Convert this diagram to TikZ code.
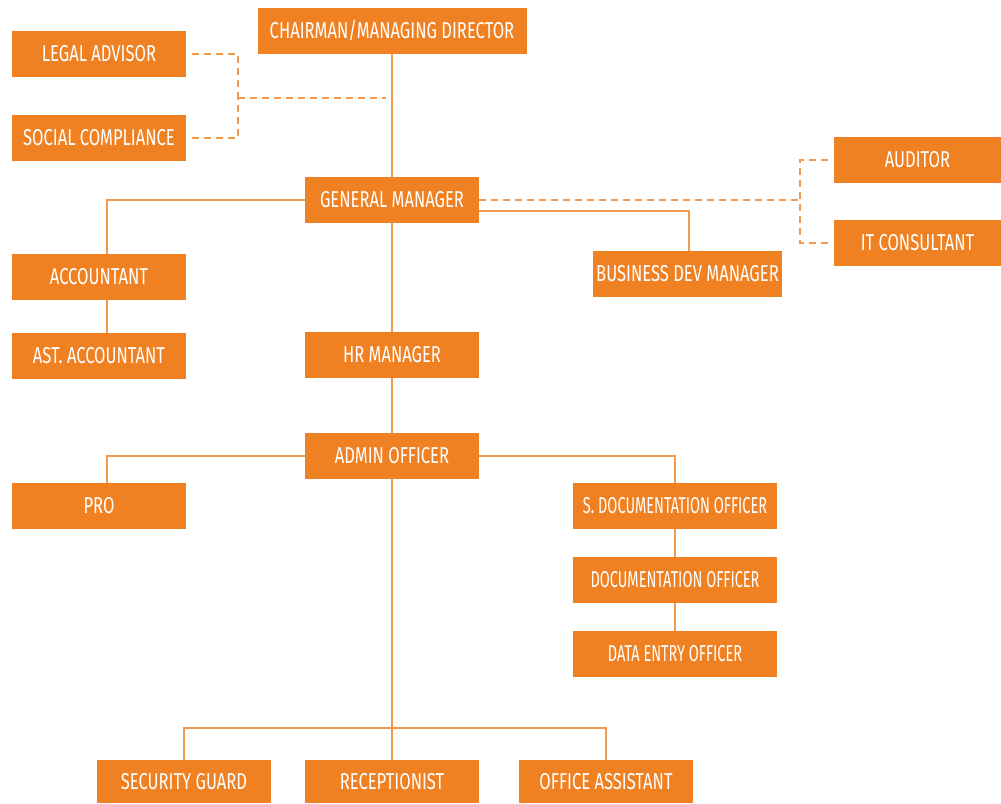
\documentclass[tikz,border=0pt]{standalone}
\usepackage{fontspec}
\setmainfont[FakeStretch=0.72]{Fira Sans}
\newfontfamily\narrowfont[FakeStretch=0.63]{Fira Sans}
\definecolor{orgbox}{HTML}{F08122}
\definecolor{orgline}{HTML}{F39A4E}
\begin{document}
\begin{tikzpicture}[x=1pt,y=-1pt,
  box/.style={fill=orgbox,text=white,inner sep=0pt,minimum height=46pt,
    font=\fontsize{23}{23}\selectfont},
  narrowbox/.style={box,font=\narrowfont\fontsize{23}{23}\selectfont},
  conn/.style={draw=orgline,line width=2pt},
  dconn/.style={draw=orgline,line width=2pt,dash pattern=on 7pt off 5pt}]
\useasboundingbox (0,0) rectangle (1001,803);
% nodes
\node[box,minimum width=269pt] (chair) at (392,30.5) {CHAIRMAN/MANAGING DIRECTOR};
\node[box,minimum width=174pt] (legal) at (99,54) {LEGAL ADVISOR};
\node[box,minimum width=174pt] (social) at (99,138) {SOCIAL COMPLIANCE};
\node[box,minimum width=174pt] (gm) at (392,200) {GENERAL MANAGER};
\node[box,minimum width=167pt] (aud) at (917.5,160) {AUDITOR};
\node[box,minimum width=167pt] (itc) at (917.5,243) {IT CONSULTANT};
\node[box,minimum width=174pt] (acct) at (99,277) {ACCOUNTANT};
\node[box,minimum width=189pt] (bdm) at (687.5,274) {BUSINESS DEV MANAGER};
\node[box,minimum width=174pt] (ast) at (99,356) {AST. ACCOUNTANT};
\node[box,minimum width=174pt] (hr) at (392,355) {HR MANAGER};
\node[box,minimum width=174pt] (admin) at (392,456) {ADMIN OFFICER};
\node[box,minimum width=174pt] (pro) at (99,506) {PRO};
\node[narrowbox,minimum width=204pt] (sdoc) at (675,506) {S. DOCUMENTATION OFFICER};
\node[narrowbox,minimum width=204pt] (doc) at (675,580) {DOCUMENTATION OFFICER};
\node[narrowbox,minimum width=204pt] (data) at (675,654) {DATA ENTRY OFFICER};
\node[box,minimum width=174pt,minimum height=43pt] (sec) at (184,781.5) {SECURITY GUARD};
\node[box,minimum width=174pt,minimum height=43pt] (rec) at (392,781.5) {RECEPTIONIST};
\node[box,minimum width=174pt,minimum height=43pt] (oa) at (606,781.5) {OFFICE ASSISTANT};
% coordinates
\coordinate (lj) at (238,98);
\coordinate (dj) at (800,200);
\coordinate (bus) at (392,728);
% solid connectors
\draw[conn] (chair.south) -- (gm.north);
\draw[conn] (gm.south) -- (hr.north);
\draw[conn] (hr.south) -- (admin.north);
\draw[conn] (admin.south) -- (rec.north);
\draw[conn] (gm.west) -| ([xshift=8pt]acct.north);
\draw[conn] ([xshift=8pt]acct.south) -- ([xshift=8pt]ast.north);
\draw[conn] ([yshift=-11pt]gm.east) -| ([xshift=1.5pt]bdm.north);
\draw[conn] (admin.west) -| ([xshift=8pt]pro.north);
\draw[conn] (admin.east) -| (sdoc.north);
\draw[conn] (sdoc.south) -- (doc.north);
\draw[conn] (doc.south) -- (data.north);
\draw[conn] (sec.north) |- (bus) -| (oa.north);
% dashed connectors
\draw[dconn] ([xshift=6pt]legal.east) -| (lj);
\draw[dconn] ([xshift=6pt]social.east) -| (lj);
\draw[dconn] (lj) -- ([xshift=-6pt]lj -| chair.south);
\draw[dconn] (gm.east) -- (dj);
\draw[dconn] ([xshift=-6pt]aud.west) -| (dj);
\draw[dconn] ([xshift=-6pt]itc.west) -| (dj);
\end{tikzpicture}
\end{document}
